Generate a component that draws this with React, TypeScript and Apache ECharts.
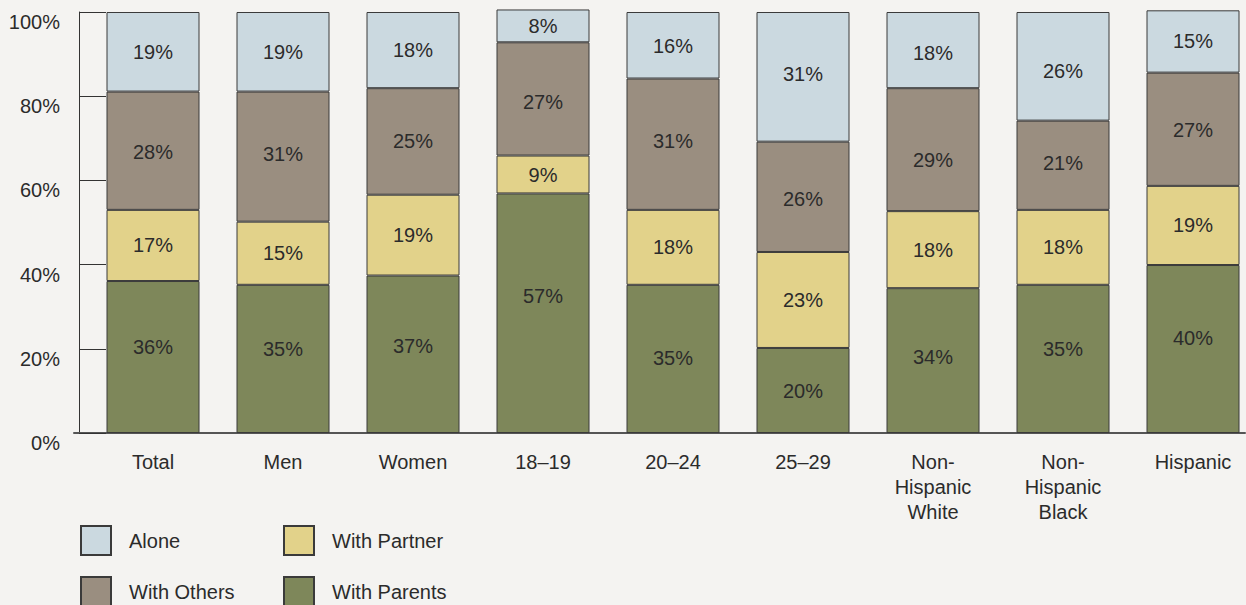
import React, { useEffect, useRef } from "react";
import * as echarts from "echarts";

const categories = ["Total", "Men", "Women", "18–19", "20–24", "25–29", "Non-\nHispanic\nWhite", "Non-\nHispanic\nBlack", "Hispanic"];
// shares (%); labels show the rounded values
const withParents = [36.1, 35.2, 37.4, 56.9, 35.2, 20.2, 34.4, 35.2, 39.9];
const withPartner = [16.9, 15.0, 19.2, 9.0, 17.8, 22.8, 18.3, 17.8, 18.8];
const withOthers = [28.1, 30.9, 25.3, 26.9, 31.2, 26.2, 29.2, 21.2, 26.9];
const alone = [18.9, 18.9, 18.1, 7.8, 15.8, 30.8, 18.1, 25.8, 14.8];

// label nudges (px) as placed in the original
const parentsLabelShift = [-10, -10, -8, -17, -1, 1, -4, -10, -11];
const othersLabelShift = [1, -3, 0, 3, -3, 2, 10, -2, 1];
const aloneLabelShift = [0, 0, 0, 0, 1, -3, 3, 5, 0];

const FONT = "'Liberation Sans', Arial, Helvetica, sans-serif";
const TEXT = "#2b2b2b";
const BORDER = "#3a3a3a";

function makeSeries(name: string, values: number[], color: string, shifts?: number[]) {
  return {
    name,
    type: "bar",
    stack: "total",
    xAxisIndex: 0,
    yAxisIndex: 0,
    barWidth: 93,
    clip: false,
    itemStyle: { color, borderColor: BORDER, borderWidth: 1 },
    label: {
      show: true,
      position: "inside",
      formatter: (p: any) => `${Math.round(p.value)}%`,
      color: TEXT,
      fontSize: 20,
      fontFamily: FONT,
    },
    data: values.map((v, i) =>
      shifts ? { value: v, label: { offset: [0, shifts[i]] } } : v
    ),
  };
}

const legendBase = {
  orient: "vertical",
  top: 525,
  padding: 0,
  height: 90,
  itemWidth: 30,
  itemHeight: 29,
  itemGap: 20,
  icon: "rect",
  textStyle: { fontSize: 20, fontFamily: FONT, color: TEXT, padding: [0, 0, 0, 13] },
};

export default function App() {
  const ref = useRef<HTMLDivElement>(null);
  useEffect(() => {
    if (!ref.current) return;
    const chart = echarts.init(ref.current, undefined, { renderer: "svg" });
    chart.setOption({
      animation: false,
      backgroundColor: "#f4f3f1",
      textStyle: { fontFamily: FONT, color: TEXT },
      grid: [
        { left: 88, top: 12, width: 1170, height: 421, outerBoundsMode: "none", containLabel: false },
        { left: 74, top: 12, width: 1171, height: 421, outerBoundsMode: "none", containLabel: false },
      ],
      xAxis: [
        {
          type: "category",
          gridIndex: 0,
          data: categories,
          axisLine: { show: false },
          axisTick: { show: false },
          axisLabel: {
            color: TEXT,
            fontSize: 20,
            fontFamily: FONT,
            lineHeight: 25,
            margin: 16,
            interval: 0,
            align: "center",
          },
        },
        {
          type: "value",
          gridIndex: 1,
          min: 0,
          max: 1,
          axisLine: { show: true, lineStyle: { color: "#555", width: 2 } },
          axisTick: { show: false },
          axisLabel: { show: false },
          splitLine: { show: false },
        },
      ],
      yAxis: [
        {
          type: "value",
          gridIndex: 0,
          min: 0,
          max: 100,
          show: false,
          splitLine: { show: false },
        },
        {
          type: "value",
          gridIndex: 1,
          min: 0,
          max: 100,
          interval: 20,
          offset: -5,
          axisLine: { show: true, lineStyle: { color: "#333", width: 1 } },
          axisTick: { show: true, inside: true, length: 27, lineStyle: { color: "#333", width: 1 } },
          axisLabel: {
            formatter: "{value}%",
            color: TEXT,
            fontSize: 20,
            fontFamily: FONT,
            margin: 19,
            verticalAlign: "top",
          },
          splitLine: { show: false },
        },
      ],
      legend: [
        { ...legendBase, left: 80, data: ["Alone", "With Others"] },
        { ...legendBase, left: 283, data: ["With Partner", "With Parents"] },
      ],
      series: [
        makeSeries("With Parents", withParents, "#7e875a", parentsLabelShift),
        makeSeries("With Partner", withPartner, "#e2d28a"),
        makeSeries("With Others", withOthers, "#9a8e80", othersLabelShift),
        makeSeries("Alone", alone, "#cbd9e0", aloneLabelShift),
      ],
    });
    return () => chart.dispose();
  }, []);
  return (
    <div
      ref={ref}
      style={{ position: "fixed", left: 0, top: 0, width: 1246, height: 605 }}
    />
  );
}
